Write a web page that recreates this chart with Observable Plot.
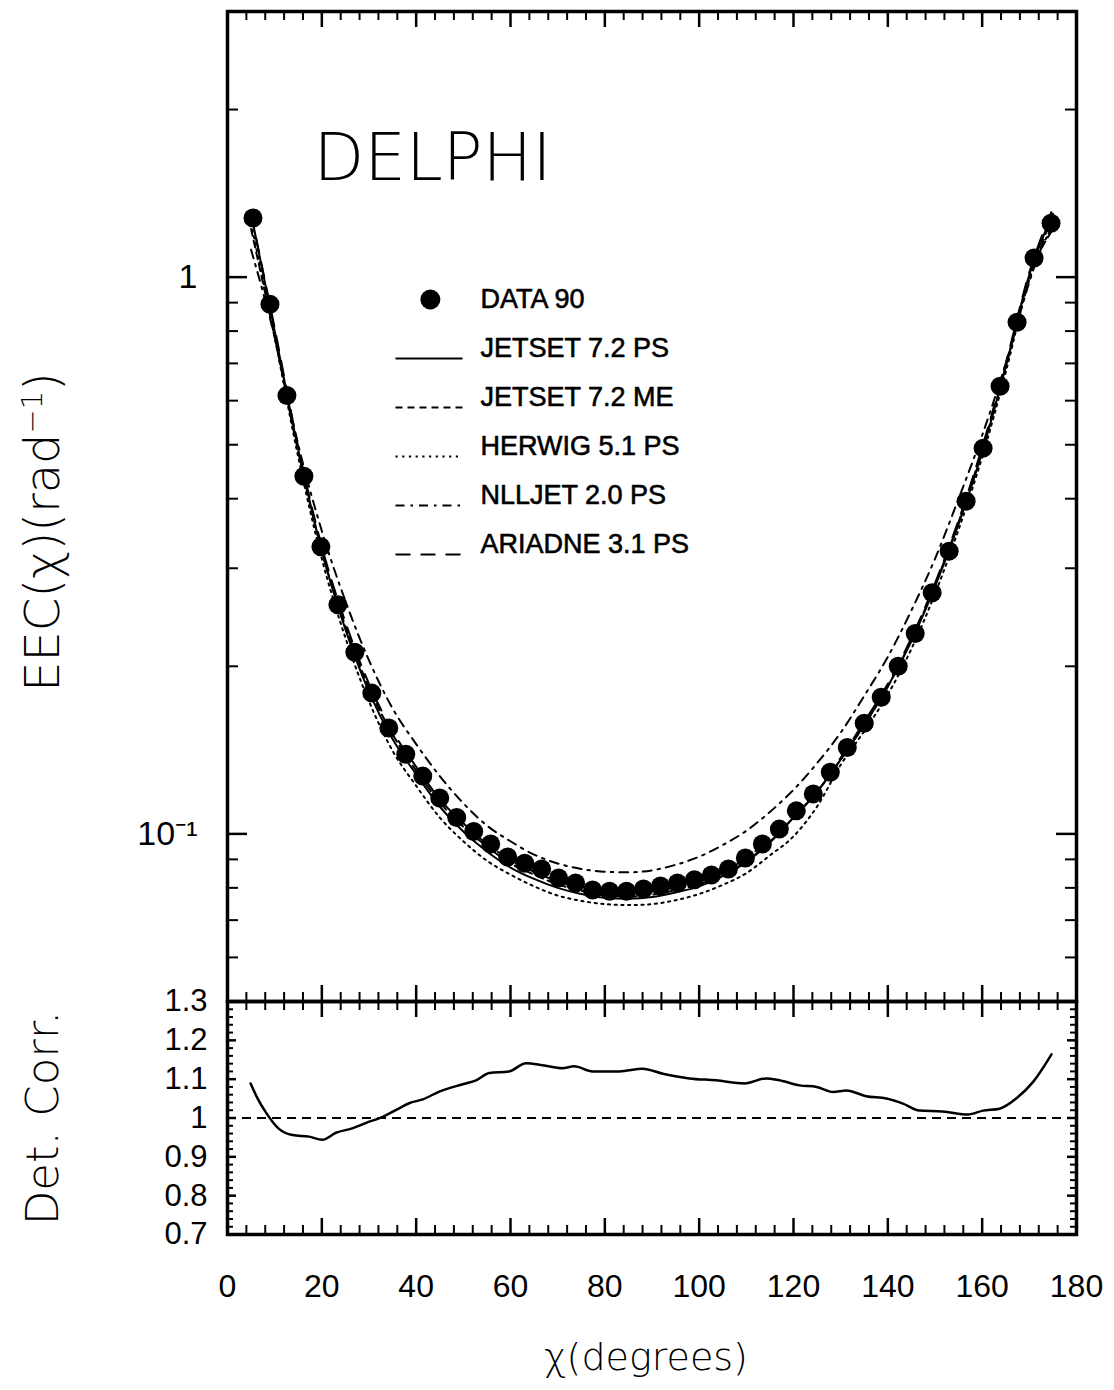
<!DOCTYPE html>
<html>
<head>
<meta charset="utf-8">
<script src="https://cdn.jsdelivr.net/npm/d3@7"></script>
<script src="https://cdn.jsdelivr.net/npm/@observablehq/plot@0.6"></script>
<style>
  body { margin: 0; background: #fff; }
  #wrap { position: relative; width: 1114px; height: 1390px; background: #fff; overflow: hidden;
          font-family: "Liberation Sans", Arial, sans-serif; color: #000; }
  #wrap > * { position: absolute; }
  .ylab { transform: translate(-50%, -50%) rotate(-90deg); white-space: nowrap;
          font-family: "DejaVu Sans", sans-serif; font-weight: 200; }
  .xlab { transform: translate(-50%, -50%); white-space: nowrap;
          font-family: "DejaVu Sans", sans-serif; font-weight: 200; font-size: 38px; }
</style>
</head>
<body>
<div id="wrap"></div>
<script>
// ---------- data ----------
const dataX = [5.4, 9.0, 12.6, 16.2, 19.8, 23.4, 27.0, 30.6, 34.2, 37.8, 41.4, 45.0,
  48.6, 52.2, 55.8, 59.4, 63.0, 66.6, 70.2, 73.8, 77.4, 81.0, 84.6, 88.2,
  91.8, 95.4, 99.0, 102.6, 106.2, 109.8, 113.4, 117.0, 120.6, 124.2, 127.8, 131.4,
  135.0, 138.6, 142.2, 145.8, 149.4, 153.0, 156.6, 160.2, 163.8, 167.4, 171.0, 174.6];
const dataEEC = [1.277, 0.894, 0.613, 0.439, 0.328, 0.258, 0.212, 0.179, 0.155, 0.139, 0.127, 0.116,
  0.107, 0.101, 0.0959, 0.0909, 0.0886, 0.0865, 0.0833, 0.0816, 0.0793, 0.0789, 0.0789, 0.0796,
  0.0806, 0.0816, 0.0827, 0.0844, 0.0865, 0.0905, 0.0959, 0.102, 0.110, 0.118, 0.129, 0.143,
  0.158, 0.176, 0.200, 0.229, 0.271, 0.322, 0.396, 0.493, 0.637, 0.830, 1.082, 1.25];

const modelX = [5, 10, 15, 20, 25, 30, 35, 40, 45, 50, 55, 60, 65, 70, 75, 80, 85, 90,
  95, 100, 105, 110, 115, 120, 125, 130, 135, 140, 145, 150, 155, 160, 165, 170, 175];
const jetsetPS = [1.30, 0.80, 0.49, 0.322, 0.233, 0.180, 0.148, 0.128, 0.112, 0.101, 0.093, 0.0870,
  0.0830, 0.0800, 0.0780, 0.0768, 0.0765, 0.0770, 0.0785, 0.0805, 0.0840, 0.0890, 0.0965, 0.107,
  0.119, 0.136, 0.157, 0.184, 0.222, 0.278, 0.360, 0.485, 0.69, 1.01, 1.30];
const jetsetME = [1.22, 0.78, 0.485, 0.322, 0.236, 0.183, 0.151, 0.130, 0.114, 0.103, 0.095, 0.0885,
  0.0845, 0.0812, 0.0790, 0.0775, 0.0772, 0.0778, 0.0792, 0.0812, 0.0845, 0.0893, 0.0968, 0.107,
  0.119, 0.136, 0.157, 0.184, 0.223, 0.280, 0.363, 0.49, 0.69, 1.00, 1.22];
const herwig = [1.25, 0.78, 0.475, 0.312, 0.225, 0.173, 0.141, 0.122, 0.107, 0.097, 0.0895, 0.0845,
  0.0805, 0.0775, 0.0758, 0.0748, 0.0745, 0.0748, 0.0760, 0.0780, 0.0810, 0.0850, 0.0915, 0.0990,
  0.112, 0.133, 0.153, 0.178, 0.215, 0.270, 0.352, 0.475, 0.675, 0.99, 1.24];
const nlljet = [1.12, 0.78, 0.50, 0.350, 0.262, 0.205, 0.168, 0.145, 0.127, 0.1135, 0.1035, 0.097,
  0.0918, 0.0885, 0.0865, 0.0855, 0.0853, 0.0860, 0.0880, 0.0910, 0.0955, 0.1013, 0.1095, 0.120,
  0.134, 0.152, 0.177, 0.208, 0.252, 0.312, 0.40, 0.52, 0.70, 0.98, 1.30];
const ariadne = [1.30, 0.81, 0.495, 0.328, 0.240, 0.186, 0.153, 0.132, 0.1155, 0.1045, 0.0960, 0.0898,
  0.0855, 0.0822, 0.0800, 0.0786, 0.0782, 0.0788, 0.0802, 0.0822, 0.0855, 0.0905, 0.0980, 0.108,
  0.120, 0.137, 0.159, 0.186, 0.225, 0.282, 0.366, 0.495, 0.70, 1.02, 1.33];

const corrX = [4.9, 6.4, 8.1, 10.9, 13.8, 17.3, 20.1, 23.0, 26.6, 29.3, 32.9, 36.4, 38.5, 41.4, 44.9,
  49.9, 52.7, 55.5, 59.7, 63.3, 66.8, 71.0, 73.5, 77.4, 83.1, 88.0, 92.3, 97.9, 103.6, 109.6,
  114.2, 117.0, 121.3, 124.9, 128.4, 131.2, 135.4, 139.7, 143.2, 146.7, 151.6, 157.0, 160.2,
  163.7, 167.2, 170.8, 174.7];
const corrY = [1.089, 1.050, 1.015, 0.972, 0.956, 0.952, 0.944, 0.962, 0.974, 0.987, 1.003, 1.025, 1.038,
  1.048, 1.068, 1.087, 1.097, 1.116, 1.120, 1.141, 1.136, 1.128, 1.133, 1.120, 1.120, 1.127, 1.114,
  1.102, 1.097, 1.089, 1.102, 1.097, 1.084, 1.080, 1.067, 1.071, 1.056, 1.050, 1.037, 1.019, 1.017,
  1.009, 1.019, 1.024, 1.050, 1.093, 1.164];
const corrRef = [1];

const legendNames = ["DATA 90", "JETSET 7.2 PS", "JETSET 7.2 ME", "HERWIG 5.1 PS", "NLLJET 2.0 PS", "ARIADNE 3.1 PS"];
const models = [
  {name: "JETSET 7.2 PS", y: jetsetPS},
  {name: "JETSET 7.2 ME", y: jetsetME},
  {name: "HERWIG 5.1 PS", y: herwig},
  {name: "NLLJET 2.0 PS", y: nlljet},
  {name: "ARIADNE 3.1 PS", y: ariadne}
];

// tick values
const xMajor = [0, 20, 40, 60, 80, 100, 120, 140, 160, 180];
const xMinor = d3.range(0, 181, 4).filter(v => v % 20 !== 0);
const yMajorTop = [0.1, 1];
const yMinorTop = [0.05, 0.06, 0.07, 0.08, 0.09, 0.2, 0.3, 0.4, 0.5, 0.6, 0.7, 0.8, 0.9, 2, 3];
const yLabelsBottom = [0.7, 0.8, 0.9, 1.0, 1.1, 1.2, 1.3];
const yMinorBottom = d3.range(35, 66, 1).map(v => v / 50);

// ---------- styles ----------
const dash = {
  "JETSET 7.2 PS": null,
  "JETSET 7.2 ME": "7,5",
  "HERWIG 5.1 PS": "2.2,4.5",
  "NLLJET 2.0 PS": "9,6,2.5,6",
  "ARIADNE 3.1 PS": "15,10"
};

const W = 1114, ML = 227, MR = 38;
const FW = W - ML - MR;
const wrap = document.getElementById("wrap");

function frameTicks(xs, ys, FH) {
  const m = [];
  for (const [vals, L, sw] of xs) {
    m.push(Plot.tickX(vals, {x: d => d, insetBottom: FH - L, stroke: "black", strokeWidth: sw}));
    m.push(Plot.tickX(vals, {x: d => d, insetTop: FH - L, stroke: "black", strokeWidth: sw}));
  }
  for (const [vals, L, sw] of ys) {
    m.push(Plot.tickY(vals, {y: d => d, insetRight: FW - L, stroke: "black", strokeWidth: sw}));
    m.push(Plot.tickY(vals, {y: d => d, insetLeft: FW - L, stroke: "black", strokeWidth: sw}));
  }
  return m;
}

// ---------- upper panel ----------
const topMT = 11, topMB = 9, topH = 1010;
const topFH = topH - topMT - topMB;
const modelMarks = models.map(m => Plot.line(modelX, {
  x: d => d, y: (d, i) => m.y[i], stroke: "black", strokeWidth: 2,
  strokeDasharray: dash[m.name], curve: "monotone-x"
}));

const upperPlot = Plot.plot({
  width: W, height: topH,
  marginLeft: ML, marginRight: MR, marginTop: topMT, marginBottom: topMB,
  style: {fontFamily: "Liberation Sans, Arial, sans-serif", background: "white", color: "black"},
  x: {domain: [0, 180], axis: null},
  y: {type: "log", domain: [0.05, 3]},
  marks: [
    ...modelMarks,
    Plot.dot(dataX, {x: d => d, y: (d, i) => dataEEC[i], r: 9.5, fill: "black", stroke: "none"}),
    ...frameTicks([[xMajor, 16, 2.5], [xMinor, 9, 2]], [[yMajorTop, 20, 2.5], [yMinorTop, 11, 2]], topFH),
    Plot.frame({stroke: "black", strokeWidth: 3.5}),
    Plot.axisY({ticks: yMajorTop, tickSize: 0, tickPadding: 30, fontSize: 34,
      tickFormat: d => d === 1 ? "1" : "10\u207B\u00B9", label: null}),
    Plot.text(["DELPHI"], {frameAnchor: "top-left", dx: 86, dy: 122, fontSize: 66,
      textAnchor: "start", fontFamily: "DejaVu Sans, sans-serif", fontWeight: 200, fill: "black"})
  ]
});
upperPlot.style.left = "0px"; upperPlot.style.top = "0px";
wrap.appendChild(upperPlot);

// ---------- lower panel ----------
const botTop = 961, botMT = 40, botH = 360, botFH = 233;
const lowerPlot = Plot.plot({
  width: W, height: botH,
  marginLeft: ML, marginRight: MR, marginTop: botMT, marginBottom: botH - botMT - botFH,
  style: {fontFamily: "Liberation Sans, Arial, sans-serif", background: "transparent", color: "black"},
  x: {domain: [0, 180]},
  y: {domain: [0.7, 1.3]},
  marks: [
    Plot.ruleY(corrRef, {y: d => d, stroke: "black", strokeWidth: 2, strokeDasharray: "9,6"}),
    Plot.line(corrX, {x: d => d, y: (d, i) => corrY[i], stroke: "black", strokeWidth: 2.5, curve: "monotone-x"}),
    ...frameTicks([[xMajor, 16, 2.5], [xMinor, 9, 2]],
      [[yLabelsBottom, 9, 2.5], [yMinorBottom.filter(v => !yLabelsBottom.some(t => Math.abs(t - v) < 1e-9)), 6, 2]], botFH),
    Plot.frame({stroke: "black", strokeWidth: 3.5}),
    Plot.axisY({ticks: yLabelsBottom, tickSize: 0, tickPadding: 20, fontSize: 31,
      tickFormat: d => d === 1 ? "1" : d.toFixed(1), label: null}),
    Plot.axisX({ticks: xMajor, tickSize: 0, tickPadding: 40, fontSize: 32, label: null,
      fontFamily: "Liberation Sans Narrow, Liberation Sans, Arial, sans-serif"})
  ]
});
lowerPlot.style.left = "0px"; lowerPlot.style.top = botTop + "px";
wrap.appendChild(lowerPlot);

// ---------- legend ----------
const legendPlot = Plot.plot({
  width: 330, height: 300, margin: 0,
  style: {fontFamily: "Liberation Sans, Arial, sans-serif", background: "transparent", color: "black"},
  x: {domain: [0, 1], range: [15, 82], axis: null},
  y: {type: "point", domain: legendNames, range: [28, 275], padding: 0, axis: null},
  marks: [
    Plot.dot([legendNames[0]], {x: () => 0.52, y: d => d, r: 10, fill: "black", stroke: "none"}),
    ...models.map(m => Plot.link([m.name], {x1: () => 0, x2: () => 1, y1: d => d, y2: d => d, dy: 10,
      stroke: "black", strokeWidth: 2, strokeDasharray: dash[m.name]})),
    Plot.text(legendNames, {x: () => 1, y: d => d, dx: 18, textAnchor: "start", fontSize: 27,
      fill: "black", stroke: "black", strokeWidth: 0.6})
  ]
});
legendPlot.style.left = "380px"; legendPlot.style.top = "270px";
wrap.appendChild(legendPlot);

// ---------- axis titles ----------
const yl1 = document.createElement("div");
yl1.className = "ylab";
yl1.style.fontSize = "48px";
yl1.innerHTML = "EEC(\u03C7)(rad<sup style=\"font-size:0.6em\">\u22121</sup>)";
yl1.style.left = "42px"; yl1.style.top = "532px";
wrap.appendChild(yl1);

const yl2 = document.createElement("div");
yl2.className = "ylab";
yl2.style.fontSize = "45px";
yl2.textContent = "Det. Corr.";
yl2.style.left = "42px"; yl2.style.top = "1118px";
wrap.appendChild(yl2);

const xl = document.createElement("div");
xl.className = "xlab";
xl.textContent = "\u03C7(degrees)";
xl.style.left = "646px"; xl.style.top = "1357px";
wrap.appendChild(xl);
</script>
</body>
</html>
